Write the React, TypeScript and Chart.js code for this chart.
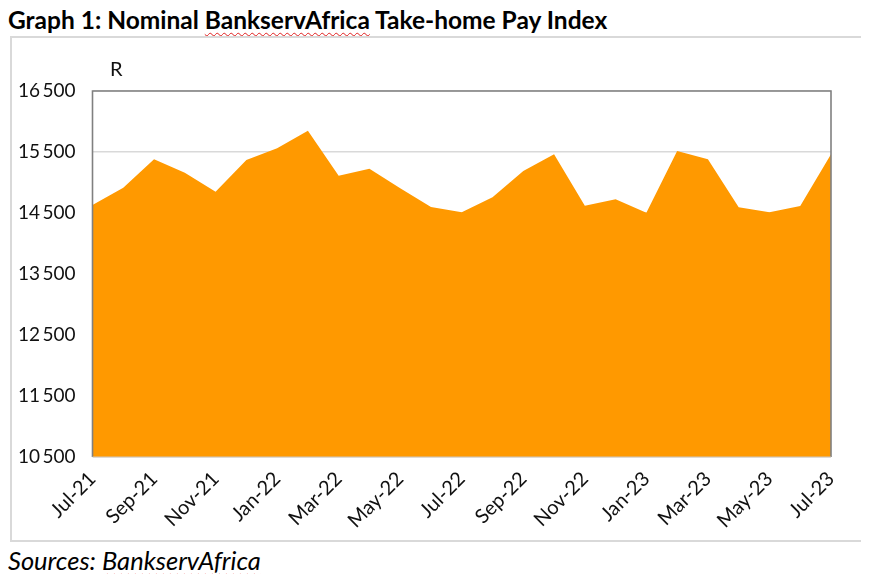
import React, { useEffect, useRef } from "react";
import { Chart, registerables } from "chart.js";

Chart.register(...registerables);

const months: string[] = [
  "Jul-21", "Aug-21", "Sep-21", "Oct-21", "Nov-21", "Dec-21",
  "Jan-22", "Feb-22", "Mar-22", "Apr-22", "May-22", "Jun-22",
  "Jul-22", "Aug-22", "Sep-22", "Oct-22", "Nov-22", "Dec-22",
  "Jan-23", "Feb-23", "Mar-23", "Apr-23", "May-23", "Jun-23", "Jul-23",
];

const takeHomePay: number[] = [
  14631, 14915, 15380, 15161, 14849, 15369,
  15561, 15849, 15111, 15226, 14905, 14598,
  14511, 14757, 15189, 15462, 14620, 14725,
  14505, 15516, 15380, 14593, 14511, 14615, 15462,
];

const yMin = 10500;
const yMax = 16500;
const yStep = 1000;

const FONT = "Lato, 'Open Sans', 'Liberation Sans', sans-serif";

const fmt = (v: number) => {
  const th = Math.floor(v / 1000);
  const rest = String(v % 1000).padStart(3, "0");
  return `${th}\u2009${rest}`;
};

const frame = {
  id: "plotFrame",
  afterDatasetsDraw(chart: any) {
    const { ctx, chartArea } = chart;
    ctx.save();
    ctx.strokeStyle = "#808080";
    ctx.lineWidth = 1.6;
    ctx.beginPath();
    ctx.moveTo(chartArea.left, chartArea.bottom);
    ctx.lineTo(chartArea.left, chartArea.top);
    ctx.lineTo(chartArea.right, chartArea.top);
    ctx.lineTo(chartArea.right, chartArea.bottom);
    ctx.stroke();
    ctx.strokeStyle = "#d0c8c0";
    ctx.lineWidth = 1.2;
    ctx.beginPath();
    ctx.moveTo(chartArea.left, chartArea.bottom);
    ctx.lineTo(chartArea.right, chartArea.bottom);
    ctx.stroke();
    ctx.restore();
  },
};

export default function App() {
  const ref = useRef<HTMLCanvasElement | null>(null);

  useEffect(() => {
    if (!ref.current) return;
    const chart = new Chart(ref.current, {
      type: "line",
      data: {
        labels: months,
        datasets: [
          {
            label: "Take-home pay",
            data: takeHomePay,
            fill: "start",
            backgroundColor: "#FF9900",
            borderWidth: 0,
            borderColor: "#FF9900",
            pointRadius: 0,
            tension: 0,
          },
        ],
      },
      options: {
        animation: false,
        responsive: true,
        maintainAspectRatio: false,
        layout: { padding: { left: 0, top: 53, right: 31, bottom: 0 } },
        plugins: {
          legend: { display: false },
          tooltip: { enabled: false },
        },
        scales: {
          x: {
            type: "category",
            offset: false,
            grid: { display: false, drawTicks: false },
            border: { display: false },
            afterFit: (s: any) => {
              s.height = 83;
            },
            ticks: {
              autoSkip: false,
              maxRotation: 45,
              minRotation: 45,
              padding: 10,
              color: "#111",
              font: { family: FONT, size: 20 },
              callback: (_v: any, i: number) => (i % 2 === 0 ? months[i] : ""),
            },
          },
          y: {
            min: yMin,
            max: yMax,
            grid: { color: "#d9d9d9", lineWidth: 1.6, drawTicks: false },
            border: { display: false },
            afterFit: (s: any) => {
              s.width = 80.5;
            },
            ticks: {
              stepSize: yStep,
              padding: 17,
              color: "#111",
              font: { family: FONT, size: 19 },
              callback: (v: any) => fmt(Number(v)),
            },
          },
        },
      },
      plugins: [frame],
    });
    return () => chart.destroy();
  }, []);

  const wavy: React.CSSProperties = {
    textDecorationLine: "underline",
    textDecorationStyle: "wavy",
    textDecorationColor: "#e02020",
    textDecorationThickness: "1px",
    textUnderlineOffset: "3px",
  };

  return (
    <div style={{ fontFamily: FONT, color: "#000" }}>
      <div style={{ height: 28, fontWeight: 700, fontSize: 24.5, lineHeight: "24px", whiteSpace: "nowrap" }}>
        Graph 1: Nominal <span style={wavy}>BankservAfrica</span> Take-home Pay Index
      </div>
      <div
        style={{
          marginLeft: 2,
          width: 850,
          height: 502,
          border: "2px solid #d9d9d9",
          position: "relative",
        }}
      >
        <span
          style={{
            position: "absolute",
            left: 98,
            top: 18,
            fontSize: 20,
            color: "#111",
          }}
        >
          R
        </span>
        <canvas ref={ref} />
      </div>
      <div style={{ fontStyle: "italic", fontSize: 25.5, lineHeight: "28px", marginTop: 4, whiteSpace: "nowrap" }}>
        Sources: <span style={wavy}>BankservAfrica</span>
      </div>
    </div>
  );
}
